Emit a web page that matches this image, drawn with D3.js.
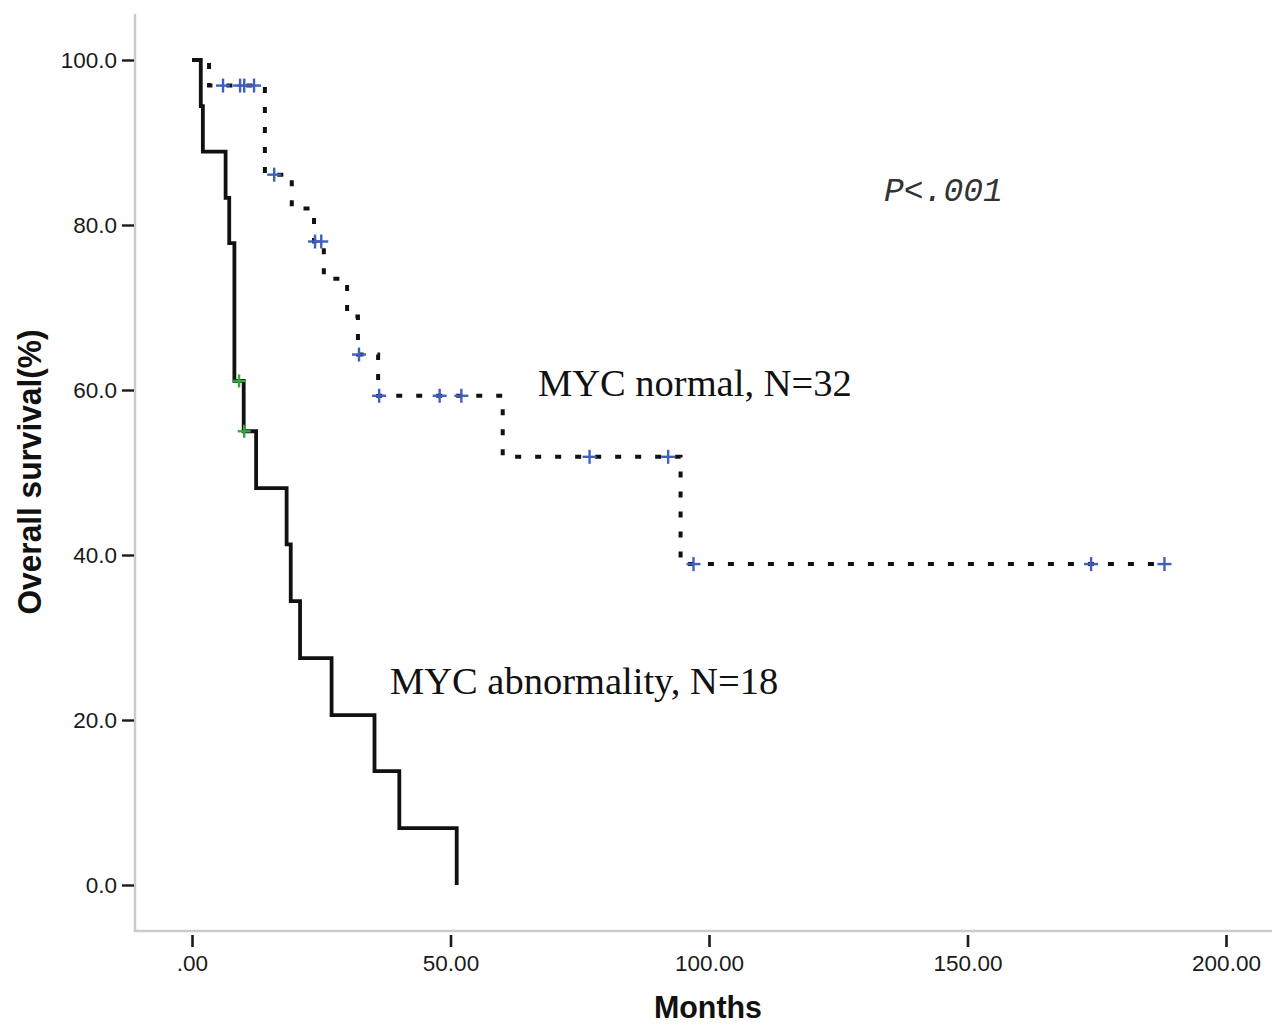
<!DOCTYPE html>
<html>
<head>
<meta charset="utf-8">
<script src="https://cdn.jsdelivr.net/npm/d3@7"></script>
<style>
  html, body { margin: 0; padding: 0; background: #fff; }
  svg { display: block; }
</style>
</head>
<body>
<svg id="chart" width="1272" height="1024"></svg>
<script>
// ---- Data ----
// MYC abnormality, N=18 (solid line)
const abnTimes = [0, 1.7, 2.1, 6.5, 7.2, 8.2, 10.0, 12.4, 18.3, 19.1, 20.9, 27.0, 35.3, 40.1];
const abnSurv  = [100, 94.4, 88.9, 83.3, 77.8, 61.1, 55.0, 48.1, 41.3, 34.4, 27.5, 20.6, 13.8, 6.9];
const abnEndTime = 51.2;
const abnEndSurv = 0;
const abnCensor = [9.1, 10.1];

// MYC normal, N=32 (dotted line)
const normTimes = [0, 3.3, 14.1, 19.3, 23.6, 25.5, 30.0, 32.1, 36.0, 60.1, 94.5];
const normSurv  = [100, 96.9, 86.1, 82.0, 78.0, 73.5, 68.9, 64.3, 59.3, 51.9, 38.9];
const normEndTime = 188.1;
const normCensor = [6.0, 9.3, 10.1, 12.0, 15.9, 23.8, 25.0, 32.3, 36.2, 47.9, 52.1, 76.9, 92.1, 97.0, 173.9, 188.1];

const xTickValues = [0, 50, 100, 150, 200];
const xTickLabels = [".00", "50.00", "100.00", "150.00", "200.00"];
const yTickValues = [0, 20, 40, 60, 80, 100];
const yTickLabels = ["0.0", "20.0", "40.0", "60.0", "80.0", "100.0"];

// ---- Drawing ----
const svg = d3.select("#chart");
const x = d3.scaleLinear().domain([0, 200]).range([192, 1226]);
const y = d3.scaleLinear().domain([0, 100]).range([885, 60]);

const axisX0 = 135, axisY0 = 931;

// axis lines (light gray)
svg.append("line").attr("x1", axisX0).attr("x2", axisX0).attr("y1", 14).attr("y2", axisY0 + 1)
  .attr("stroke", "#cbcbcb").attr("stroke-width", 2.5);
svg.append("line").attr("x1", axisX0 - 1).attr("x2", 1272).attr("y1", axisY0).attr("y2", axisY0)
  .attr("stroke", "#cbcbcb").attr("stroke-width", 2.5);

// y axis
const yAxis = d3.axisLeft(y).tickValues(yTickValues)
  .tickFormat((d, i) => yTickLabels[i]).tickSizeInner(12).tickSizeOuter(0).tickPadding(5);
const gy = svg.append("g").attr("transform", `translate(${axisX0 - 1},0)`).call(yAxis);
gy.select(".domain").remove();
gy.selectAll(".tick line").attr("stroke", "#1a1a1a").attr("stroke-width", 2.4);
gy.selectAll(".tick text").attr("font-family", "'Liberation Sans', Arial, sans-serif")
  .attr("font-size", 22.5).attr("fill", "#1a1a1a");

// x axis
const xAxis = d3.axisBottom(x).tickValues(xTickValues)
  .tickFormat((d, i) => xTickLabels[i]).tickSizeInner(12).tickSizeOuter(0).tickPadding(8);
const gx = svg.append("g").attr("transform", `translate(0,${axisY0 + 4})`).call(xAxis);
gx.select(".domain").remove();
gx.selectAll(".tick line").attr("stroke", "#1a1a1a").attr("stroke-width", 2.6);
gx.selectAll(".tick text").attr("font-family", "'Liberation Sans', Arial, sans-serif")
  .attr("font-size", 22.5).attr("fill", "#1a1a1a");

// axis titles
svg.append("text").attr("x", 708).attr("y", 1018).attr("text-anchor", "middle")
  .attr("font-family", "'Liberation Sans', Arial, sans-serif").attr("font-weight", "bold")
  .attr("font-size", 31).attr("textLength", 108).attr("lengthAdjust", "spacingAndGlyphs")
  .attr("fill", "#111").text("Months");
svg.append("text").attr("transform", "translate(41,472) rotate(-90)").attr("text-anchor", "middle")
  .attr("font-family", "'Liberation Sans', Arial, sans-serif").attr("font-weight", "bold")
  .attr("font-size", 33).attr("textLength", 285).attr("lengthAdjust", "spacingAndGlyphs")
  .attr("fill", "#111").text("Overall survival(%)");

// step curves
const line = d3.line().x(d => x(d[0])).y(d => y(d[1])).curve(d3.curveStepAfter);
const abnPts = abnTimes.map((t, i) => [t, abnSurv[i]]).concat([[abnEndTime, abnEndSurv]]);
const normPts = normTimes.map((t, i) => [t, normSurv[i]]).concat([[normEndTime, normSurv[normSurv.length - 1]]]);

svg.append("path").attr("d", line(normPts)).attr("fill", "none")
  .attr("stroke", "#111").attr("stroke-width", 4).attr("stroke-dasharray", "6 14");
svg.append("path").attr("d", line(abnPts)).attr("fill", "none")
  .attr("stroke", "#111").attr("stroke-width", 3.8).attr("stroke-linejoin", "miter");

function survAt(times, surv, t) {
  const i = d3.bisectRight(times, t) - 1;
  return surv[Math.max(0, i)];
}
function drawCensor(times, surv, cens, color, size) {
  const g = svg.append("g");
  cens.forEach(t => {
    const cx = x(t), cy = y(survAt(times, surv, t));
    g.append("line").attr("x1", cx - size).attr("x2", cx + size).attr("y1", cy).attr("y2", cy)
      .attr("stroke", color).attr("stroke-width", 2.4);
    g.append("line").attr("x1", cx).attr("x2", cx).attr("y1", cy - size).attr("y2", cy + size)
      .attr("stroke", color).attr("stroke-width", 2.4);
  });
}
drawCensor(normTimes, normSurv, normCensor, "#3f5fbf", 7);
drawCensor(abnTimes, abnSurv, abnCensor, "#2faa3a", 6.5);

// annotations
svg.append("text").attr("x", 538).attr("y", 396)
  .attr("font-family", "'Liberation Serif', 'Times New Roman', serif").attr("font-size", 38.5)
  .attr("fill", "#111").text("MYC normal, N=32");
svg.append("text").attr("x", 390).attr("y", 694)
  .attr("font-family", "'Liberation Serif', 'Times New Roman', serif").attr("font-size", 38.5)
  .attr("fill", "#111").text("MYC abnormality, N=18");
svg.append("text").attr("x", 884).attr("y", 201)
  .attr("font-family", "'Liberation Mono', 'Courier New', monospace").attr("font-style", "italic")
  .attr("font-size", 33).attr("fill", "#333").text("P<.001");
</script>
</body>
</html>
